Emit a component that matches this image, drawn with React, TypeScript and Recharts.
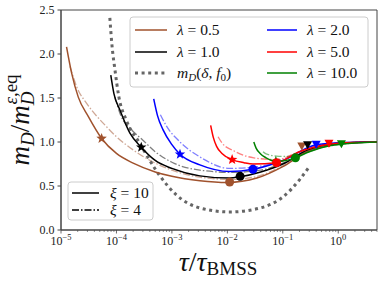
import React from 'react';
import { ComposedChart, Line, Scatter, XAxis, YAxis, ReferenceArea, Label } from 'recharts';

const lambdaLabels = ['0.5', '1.0', '2.0', '5.0', '10.0'];
const colors = ['#a0522d', '#000000', '#0000ff', '#ff0000', '#008000'];

// xi = 10 (solid lines)
const tauL05Xi10 = [1.26e-5, 1.56e-5, 2.05e-5, 3.1e-5, 5.4e-5, 1e-4, 2e-4, 5e-4, 1e-3, 3.2e-3, 1e-2, 3.4e-2, 0.1, 0.27, 0.8, 2, 5];
const mL05Xi10 = [2.08, 1.78, 1.51, 1.29, 1.04, 0.87, 0.76, 0.66, 0.61, 0.56, 0.54, 0.59, 0.72, 0.89, 0.97, 0.995, 1.0];
const tauL1Xi10 = [7.9e-5, 9e-5, 1.16e-4, 1.75e-4, 2.8e-4, 5e-4, 1e-3, 3.2e-3, 1.1e-2, 1.7e-2, 4e-2, 0.1, 0.28, 1, 5];
const mL1Xi10 = [1.76, 1.55, 1.36, 1.10, 0.94, 0.79, 0.70, 0.615, 0.59, 0.605, 0.66, 0.75, 0.91, 0.985, 1.0];
const tauL2Xi10 = [4.7e-4, 5.5e-4, 6.9e-4, 1e-3, 1.4e-3, 3.2e-3, 1.1e-2, 2.9e-2, 0.1, 0.4, 1, 5];
const mL2Xi10 = [1.49, 1.30, 1.14, 0.97, 0.86, 0.74, 0.665, 0.69, 0.79, 0.97, 0.99, 1.0];
const tauL5Xi10 = [5.0e-3, 5.6e-3, 6.4e-3, 8e-3, 1.22e-2, 2e-2, 2.9e-2, 7.7e-2, 0.2, 0.68, 2, 5];
const mL5Xi10 = [1.19, 1.05, 0.95, 0.87, 0.80, 0.765, 0.75, 0.765, 0.89, 0.975, 0.995, 1.0];
const tauL10Xi10 = [3.0e-2, 3.3e-2, 3.9e-2, 5e-2, 7.5e-2, 0.1, 0.169, 0.3, 0.6, 1.14, 2, 5];
const mL10Xi10 = [1.0, 0.93, 0.87, 0.82, 0.78, 0.785, 0.82, 0.89, 0.95, 0.975, 0.99, 1.0];

// xi = 4 (dash-dot lines)
const tauL05Xi4 = [1.45e-5, 2e-5, 2.9e-5, 6.7e-5, 1e-4, 2e-4, 1e-3, 3.2e-3, 1.2e-2, 4e-2, 0.1, 0.3, 1, 5];
const mL05Xi4 = [1.86, 1.60, 1.44, 1.17, 1.06, 0.91, 0.68, 0.60, 0.575, 0.62, 0.73, 0.90, 0.98, 1.0];
const tauL1Xi4 = [9.4e-5, 1.2e-4, 1.8e-4, 3e-4, 5e-4, 1e-3, 3.2e-3, 1.2e-2, 4e-2, 0.1, 0.3, 1, 5];
const mL1Xi4 = [1.51, 1.30, 1.15, 1.02, 0.89, 0.77, 0.68, 0.655, 0.68, 0.76, 0.91, 0.985, 1.0];
const tauL2Xi4 = [6.2e-4, 8e-4, 1.4e-3, 3.2e-3, 1.1e-2, 3e-2, 0.1, 0.4, 1, 5];
const mL2Xi4 = [1.31, 1.18, 1.0, 0.83, 0.70, 0.715, 0.79, 0.96, 0.99, 1.0];
const tauL5Xi4 = [6.8e-3, 8e-3, 1.3e-2, 3e-2, 7.7e-2, 0.2, 0.7, 2, 5];
const mL5Xi4 = [1.06, 0.99, 0.90, 0.82, 0.80, 0.89, 0.97, 0.995, 1.0];
const tauL10Xi4 = [4.4e-2, 5e-2, 7.7e-2, 0.12, 0.2, 0.4, 1, 2, 5];
const mL10Xi4 = [0.89, 0.865, 0.84, 0.835, 0.85, 0.92, 0.97, 0.99, 1.0];

// m_D(delta, f0), dotted
const tauDelta = [7.6e-5, 8.3e-5, 9.4e-5, 1.1e-4, 1.5e-4, 2.6e-4, 6e-4, 1.2e-3, 3.2e-3, 1.1e-2, 3.9e-2, 0.1, 0.2, 0.3];
const mDelta = [2.41, 2.1, 1.82, 1.52, 1.25, 0.99, 0.62, 0.40, 0.25, 0.205, 0.25, 0.375, 0.57, 0.72];

// markers on the xi = 10 curves, one per lambda
const starTau = [5.4e-5, 2.8e-4, 1.4e-3, 1.22e-2, 0.075];
const starM = [1.04, 0.94, 0.86, 0.80, 0.78];
const circleTau = [1.1e-2, 1.7e-2, 2.9e-2, 7.7e-2, 0.169];
const circleM = [0.545, 0.61, 0.69, 0.765, 0.82];
const triTau = [0.22, 0.28, 0.4, 0.68, 1.14];
const triM = [0.955, 0.97, 0.975, 0.985, 0.98];

const majorTicks = [1e-5, 1e-4, 1e-3, 1e-2, 1e-1, 1];
const yTicks = [0, 0.5, 1.0, 1.5, 2.0, 2.5];

const serif = '"Liberation Serif", "DejaVu Serif", serif';

const pts = (tau: number[], m: number[]) => tau.map((x, i) => ({ x, y: m[i] }));
const markerPts = (tau: number[], m: number[]) => tau.map((x, i) => ({ x, y: m[i], i }));

const solid = [pts(tauL05Xi10, mL05Xi10), pts(tauL1Xi10, mL1Xi10), pts(tauL2Xi10, mL2Xi10), pts(tauL5Xi10, mL5Xi10), pts(tauL10Xi10, mL10Xi10)];
const dashDot = [pts(tauL05Xi4, mL05Xi4), pts(tauL1Xi4, mL1Xi4), pts(tauL2Xi4, mL2Xi4), pts(tauL5Xi4, mL5Xi4), pts(tauL10Xi4, mL10Xi4)];

const allTicks: number[] = [];
majorTicks.forEach((d) => {
  for (let k = 1; k <= 9; k++) {
    const v = k * d;
    if (v <= 5.0001) allTicks.push(v);
  }
});

function XTick({ x, y, payload }: any) {
  const e = Math.log10(payload.value);
  const major = Math.abs(e - Math.round(e)) < 1e-6;
  const p = Math.round(e);
  return (
    <g>
      <line x1={x} x2={x} y1={y} y2={y + (major ? 3.5 : 2)} stroke="#444" strokeWidth={major ? 0.8 : 0.6} />
      {major && (
        <text x={x} y={y + 15} textAnchor="middle" fontFamily={serif} fontSize={12} fill="#222">
          10
          <tspan dy={-5} fontSize={8.5}>{p === 0 ? '0' : '\u2212' + Math.abs(p)}</tspan>
        </text>
      )}
    </g>
  );
}

const starShape = (props: any) => {
  const { cx, cy, payload } = props;
  const p: string[] = [];
  for (let k = 0; k < 10; k++) {
    const r = k % 2 === 0 ? 5.5 : 2.3;
    const a = -Math.PI / 2 + (k * Math.PI) / 5;
    p.push(`${cx + r * Math.cos(a)},${cy + r * Math.sin(a)}`);
  }
  return <polygon points={p.join(' ')} fill={colors[payload.i]} />;
};

const circleShape = (props: any) => {
  const { cx, cy, payload } = props;
  return <circle cx={cx} cy={cy} r={4.5} fill={colors[payload.i]} />;
};

const triShape = (props: any) => {
  const { cx, cy, payload } = props;
  return (
    <polygon
      points={`${cx - 4.5},${cy - 3.5} ${cx + 4.5},${cy - 3.5} ${cx},${cy + 4.5}`}
      fill={colors[payload.i]}
    />
  );
};

function Legends() {
  const rows = [30, 52, 73];
  return (
    <svg width={382} height={285} style={{ position: 'absolute', left: 0, top: 0, pointerEvents: 'none' }}>
      <rect x={130} y={17} width={238} height={70} rx={3} fill="#fff" fillOpacity={0.8} stroke="#ccc" strokeWidth={1} />
      {[0, 1].map((i) => (
        <g key={i}>
          <line x1={135} x2={167} y1={rows[i]} y2={rows[i]} stroke={colors[i]} strokeWidth={1.5} />
          <text x={177} y={rows[i] + 5} fontFamily={serif} fontSize={15.5} fill="#111">
            <tspan fontStyle="italic">λ</tspan> = {lambdaLabels[i]}
          </text>
        </g>
      ))}
      <line x1={135} x2={167} y1={rows[2]} y2={rows[2]} stroke="#666" strokeWidth={3} strokeDasharray="3 3.6" />
      <text x={177} y={rows[2] + 5} fontFamily={serif} fontSize={15.5} fill="#111">
        <tspan fontStyle="italic">m</tspan>
        <tspan fontStyle="italic" fontSize={11} dy={3}>D</tspan>
        <tspan dy={-3}>(</tspan>
        <tspan fontStyle="italic">δ</tspan>, <tspan fontStyle="italic">f</tspan>
        <tspan fontSize={11} dy={3}>0</tspan>
        <tspan dy={-3}>)</tspan>
      </text>
      {[2, 3, 4].map((i, j) => (
        <g key={i}>
          <line x1={267} x2={297} y1={rows[j]} y2={rows[j]} stroke={colors[i]} strokeWidth={1.5} />
          <text x={307} y={rows[j] + 5} fontFamily={serif} fontSize={15.5} fill="#111">
            <tspan fontStyle="italic">λ</tspan> = {lambdaLabels[i]}
          </text>
        </g>
      ))}
      <rect x={68} y={182} width={85} height={38} rx={3} fill="#fff" fillOpacity={0.8} stroke="#ccc" strokeWidth={1} />
      <line x1={72} x2={99} y1={193} y2={193} stroke="#000" strokeWidth={1.5} />
      <text x={110} y={198} fontFamily={serif} fontSize={15.5} fill="#111">
        <tspan fontStyle="italic">ξ</tspan> = 10
      </text>
      <line x1={72} x2={99} y1={210} y2={210} stroke="#000" strokeWidth={1.3} strokeDasharray="7 2 1.5 2" />
      <text x={110} y={215} fontFamily={serif} fontSize={15.5} fill="#111">
        <tspan fontStyle="italic">ξ</tspan> = 4
      </text>
    </svg>
  );
}

export default function App() {
  return (
    <div style={{ position: 'absolute', left: 0, top: 0, width: 382, height: 285, background: '#fff' }}>
      <ComposedChart width={382} height={285} margin={{ top: 10, right: 5, left: 0, bottom: 0 }}>
        <XAxis
          dataKey="x"
          type="number"
          scale="log"
          domain={[1e-5, 5]}
          allowDataOverflow
          ticks={allTicks}
          interval={0}
          tick={<XTick />}
          tickLine={false}
          tickSize={0}
          tickMargin={0}
          height={55}
          axisLine={{ stroke: '#444' }}
        >
          <Label
            content={() => (
              <text x={218} y={271} textAnchor="middle" fontFamily={serif} fontSize={28} fill="#111">
                <tspan fontStyle="italic">τ</tspan>/<tspan fontStyle="italic">τ</tspan>
                <tspan fontSize={19} dy={4}>BMSS</tspan>
              </text>
            )}
          />
        </XAxis>
        <YAxis
          type="number"
          domain={[0, 2.5]}
          ticks={yTicks}
          interval={0}
          width={61}
          tickSize={3.5}
          tickMargin={3}
          tickFormatter={(v: number) => v.toFixed(1)}
          tick={{ fontFamily: serif, fontSize: 12, fill: '#222' }}
          tickLine={{ stroke: '#444' }}
          axisLine={{ stroke: '#444' }}
        >
          <Label
            content={() => (
              <text transform="translate(29,120) rotate(-90)" textAnchor="middle" fontFamily={serif} fontSize={27} fill="#111">
                <tspan fontStyle="italic">m</tspan>
                <tspan fontStyle="italic" fontSize={19} dy={5}>D</tspan>
                <tspan dy={-5}>/</tspan>
                <tspan fontStyle="italic">m</tspan>
                <tspan fontStyle="italic" fontSize={19} dy={5}>D</tspan>
                <tspan fontStyle="italic" fontSize={19} dx={-13} dy={-17}>ε</tspan>
                <tspan fontSize={19}>,eq</tspan>
              </text>
            )}
          />
        </YAxis>
        <ReferenceArea x1={1e-5} x2={5} y1={0} y2={2.5} fill="none" stroke="#444" strokeWidth={1} />
        {dashDot.map((d, i) => (
          <Line
            key={'dd' + i}
            data={d}
            dataKey="y"
            type="monotone"
            stroke={colors[i]}
            strokeOpacity={0.5}
            strokeWidth={1.3}
            strokeDasharray="7 2 1.5 2"
            dot={false}
            activeDot={false}
            isAnimationActive={false}
          />
        ))}
        <Line
          data={pts(tauDelta, mDelta)}
          dataKey="y"
          type="monotone"
          stroke="#666"
          strokeWidth={3}
          strokeDasharray="3 3.6"
          dot={false}
          activeDot={false}
          isAnimationActive={false}
        />
        {solid.map((d, i) => (
          <Line
            key={'s' + i}
            data={d}
            dataKey="y"
            type="monotone"
            stroke={colors[i]}
            strokeWidth={1.5}
            dot={false}
            activeDot={false}
            isAnimationActive={false}
          />
        ))}
        <Scatter data={markerPts(starTau, starM)} dataKey="y" shape={starShape} isAnimationActive={false} />
        <Scatter data={markerPts(circleTau, circleM)} dataKey="y" shape={circleShape} isAnimationActive={false} />
        <Scatter data={markerPts(triTau, triM)} dataKey="y" shape={triShape} isAnimationActive={false} />
      </ComposedChart>
      <Legends />
    </div>
  );
}
